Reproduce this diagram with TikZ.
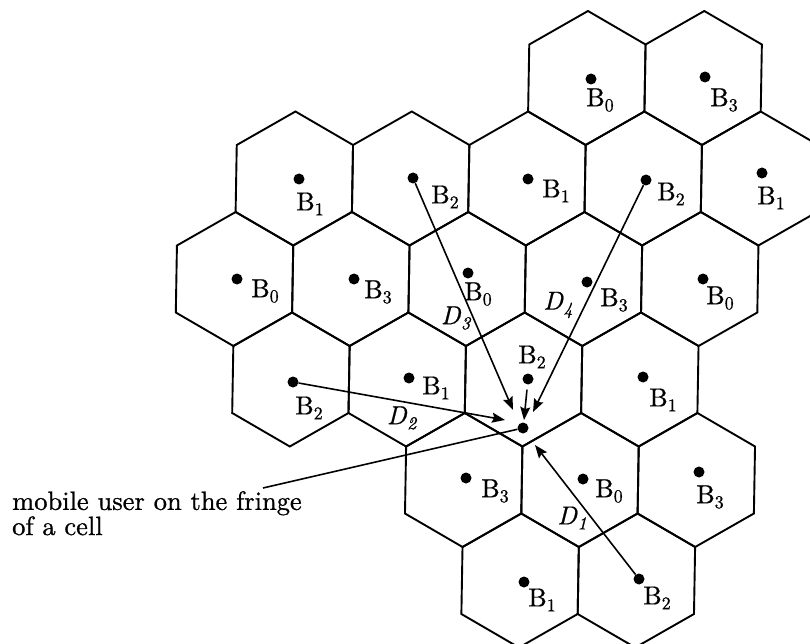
\documentclass[tikz,border=0pt]{standalone}
\usepackage{fontspec}
\setmainfont{lmroman10-regular.otf}[ItalicFont=lmroman10-italic.otf, FakeBold=0.8]
\usetikzlibrary{arrows.meta}
\newcommand{\CellB}[1]{B\raisebox{-5pt}{\fontsize{18}{18}\selectfont #1}}
\newcommand{\DistD}[1]{\textit{D}\raisebox{-5pt}{\fontsize{18}{18}\selectfont\textit{#1}}}
\begin{document}
\begin{tikzpicture}[x=1pt,y=-1pt,
  hexline/.style={line width=1.9pt, line join=miter},
  bs/.style={circle, fill=black, inner sep=0pt, minimum size=11pt},
  lab/.style={inner sep=0pt, font=\fontsize{26}{26}\selectfont},
  arr/.style={line width=1.6pt, -{Stealth[length=13pt,width=10pt,inset=2pt]}},
  pointer/.style={line width=1.6pt},
  ]
\useasboundingbox (0,0) rectangle (810,644);
% hexagonal cells
\begin{scope}
\clip (0,0) rectangle (810,644);
\begin{scope}[cm={1,0,0.017,1,(4.76pt,0pt)}]
\foreach \cx/\cy in {583.4/78, 699.7/78,
  292.6/178.5, 408.9/178.5, 525.2/178.5, 641.5/178.5, 757.8/178.5,
  234.5/279, 350.8/279, 467.1/279, 583.4/279, 699.7/279,
  292.6/379.5, 408.9/379.5, 525.2/379.5, 641.5/379.5,
  467.1/480, 583.4/480, 699.7/480,
  525.2/580.5, 641.5/580.5}
  \draw[hexline] (\cx,\cy-67) -- (\cx+58.15,\cy-33.5) -- (\cx+58.15,\cy+33.5)
     -- (\cx,\cy+67) -- (\cx-58.15,\cy+33.5) -- (\cx-58.15,\cy-33.5) -- cycle;
\end{scope}
\end{scope}
% base stations
\node[bs] (r1a) at (591,79) {};   \node[lab] at (600,100) {\CellB{0}};
\node[bs] (r1b) at (705,77) {};   \node[lab] at (724,100) {\CellB{3}};
\node[bs] (r2a) at (299,179) {};  \node[lab] at (310,204) {\CellB{1}};
\node[bs] (r2b) at (413,178) {};  \node[lab] at (445,197) {\CellB{2}};
\node[bs] (r2c) at (528,179) {};  \node[lab] at (556,191) {\CellB{1}};
\node[bs] (r2d) at (646,180) {};  \node[lab] at (671,194) {\CellB{2}};
\node[bs] (r2e) at (762,173) {};  \node[lab] at (771,198) {\CellB{1}};
\node[bs] (r3a) at (237,279) {};  \node[lab] at (265,291) {\CellB{0}};
\node[bs] (r3b) at (354,279) {};  \node[lab] at (378,292) {\CellB{3}};
\node[bs] (r3c) at (468,273) {};  \node[lab] at (478,294) {\CellB{0}};
\node[bs] (r3d) at (587,282) {};  \node[lab] at (614,300) {\CellB{3}};
\node[bs] (r3e) at (703,279) {};  \node[lab] at (720,298) {\CellB{0}};
\node[bs] (r4a) at (293,382) {};  \node[lab] at (309,408) {\CellB{2}};
\node[bs] (r4b) at (409,378) {};  \node[lab] at (436,388) {\CellB{1}};
\node[bs] (r4c) at (528,379) {};  \node[lab] at (532,357) {\CellB{2}};
\node[bs] (r4d) at (643,377) {};  \node[lab] at (663,400) {\CellB{1}};
\node[bs] (r5a) at (466,478) {};  \node[lab] at (495,491) {\CellB{3}};
\node[bs] (r5b) at (583,479) {};  \node[lab] at (609,491) {\CellB{0}};
\node[bs] (r5c) at (699,472) {};  \node[lab] at (710,497) {\CellB{3}};
\node[bs] (r6a) at (524,582) {};  \node[lab] at (542,600) {\CellB{1}};
\node[bs] (r6b) at (639,579) {};  \node[lab] at (657,598) {\CellB{2}};
% mobile user
\node[bs] (mob) at (523,428) {};
% distance arrows
\coordinate (t3) at (513,410);
\coordinate (t4) at (533,412);
\coordinate (t0) at (524,420);
\coordinate (t2) at (505,420);
\coordinate (t1) at (535,445);
\draw[arr] (r2b) -- (t3);
\draw[arr] (r2d) -- (t4);
\draw[arr, shorten <=5pt] (r4c) -- (t0);
\draw[arr] (r4a) -- (t2);
\draw[arr] (r6b) -- (t1);
\node[lab] at (456,318) {\DistD{3}};
\node[lab] at (558,305) {\DistD{4}};
\node[lab] at (402,418) {\DistD{2}};
\node[lab] at (572,518) {\DistD{1}};
% caption pointer
\node[lab, align=left, anchor=north west, font=\fontsize{26.5}{23}\selectfont] (txt) at (12,491) {mobile user on the fringe\\of a cell};
\coordinate (mp) at (263,488);
\draw[pointer] (mp) -- (mob);
\end{tikzpicture}
\end{document}
